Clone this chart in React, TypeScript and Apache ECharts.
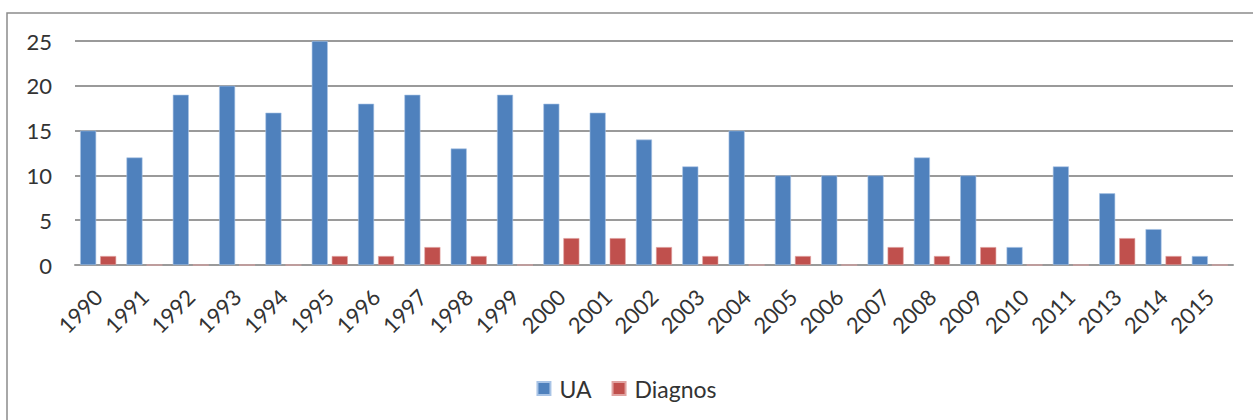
import React, { useEffect, useRef } from "react";
import * as echarts from "echarts";

const categories = ["1990","1991","1992","1993","1994","1995","1996","1997","1998","1999","2000","2001","2002","2003","2004","2005","2006","2007","2008","2009","2010","2011","2013","2014","2015"];
const uaValues = [15,12,19,20,17,25,18,19,13,19,18,17,14,11,15,10,10,10,12,10,2,11,8,4,1];
const diagnosValues = [1,0,0,0,0,1,1,2,1,0,3,3,2,1,0,1,0,2,1,2,0,0,3,1,0];
const yTicks = { min: 0, max: 25, interval: 5 };

const FONT = "Lato, 'Open Sans', sans-serif";
const TXT = "#333333";
const GRID = "#9a9a9a";

export default function App() {
  const ref = useRef<HTMLDivElement>(null);
  useEffect(() => {
    if (!ref.current) return;
    const chart = echarts.init(ref.current, null, { renderer: "svg" });
    chart.setOption({
      animation: false,
      backgroundColor: "#ffffff",
      textStyle: { fontFamily: FONT },
      graphic: [
        {
          type: "rect",
          shape: { x: 7, y: 13, width: 1260, height: 420 },
          style: { fill: "none", stroke: "#8c8c8c", lineWidth: 1.5 },
          silent: true,
        },
      ],
      grid: { left: 75, right: 20, top: 41, bottom: 155, containLabel: false },
      legend: {
        data: ["UA", "Diagnos"],
        left: "center",
        top: 372,
        itemWidth: 13,
        itemHeight: 13,
        itemGap: 20,
        icon: "rect",
        textStyle: { fontFamily: FONT, fontSize: 23, color: TXT, padding: [0, 0, 0, 4] },
      },
      xAxis: {
        type: "category",
        data: categories,
        axisLine: { show: true, lineStyle: { color: GRID, width: 2 } },
        axisTick: { show: false },
        axisLabel: { rotate: 45, fontSize: 22, color: TXT, fontFamily: FONT, margin: 28, interval: 0 },
      },
      yAxis: {
        type: "value",
        min: yTicks.min,
        max: yTicks.max,
        interval: yTicks.interval,
        axisLine: { show: false },
        axisTick: { show: false },
        axisLabel: { fontSize: 22, color: TXT, fontFamily: FONT, margin: 23 },
        splitLine: { lineStyle: { color: GRID, width: 2 } },
      },
      series: [
        {
          name: "UA",
          type: "bar",
          data: uaValues,
          barWidth: 16,
          barGap: "25%",
          itemStyle: { color: "#4F81BD", borderColor: "#a9c4e6", borderWidth: 0.6 },
        },
        {
          name: "Diagnos",
          type: "bar",
          data: diagnosValues,
          barWidth: 16,
          itemStyle: { color: "#C0504D", borderColor: "#e0a3a1", borderWidth: 0.6 },
        },
      ],
    });
    return () => chart.dispose();
  }, []);
  return (
    <div style={{ position: "fixed", left: 0, top: 0, width: 1253, height: 420, background: "#fff" }}>
      <div ref={ref} style={{ width: 1253, height: 420 }} />
    </div>
  );
}
